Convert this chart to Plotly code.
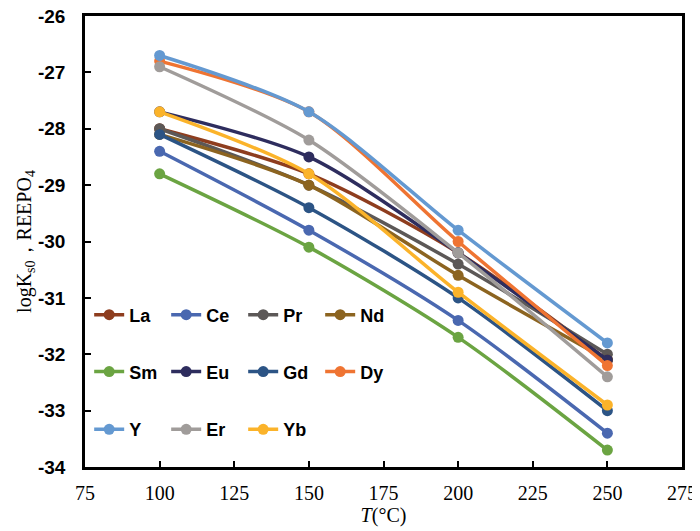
import plotly.graph_objects as go

# temperatures (°C)
temps = [100, 150, 200, 250]

# logKs0 of REEPO4 for each element
La = [-28.0, -28.8, -30.2, -32.1]
Ce = [-28.4, -29.8, -31.4, -33.4]
Pr = [-28.0, -29.0, -30.4, -32.0]
Nd = [-28.1, -29.0, -30.6, -32.1]
Sm = [-28.8, -30.1, -31.7, -33.7]
Eu = [-27.7, -28.5, -30.2, -32.1]
Gd = [-28.1, -29.4, -31.0, -33.0]
Dy = [-26.8, -27.7, -30.0, -32.2]
Y = [-26.7, -27.7, -29.8, -31.8]
Er = [-26.9, -28.2, -30.2, -32.4]
Yb = [-27.7, -28.8, -30.9, -32.9]

# axis ticks
y_ticks = [-34, -33, -32, -31, -30, -29, -28, -27, -26]
y_labels = ["-34", "-33", "-32", "-31", "-30", "-29", "-28", "-27", "-26"]

series = [
    ("La", La, "#8E3D1E", "legend"),
    ("Ce", Ce, "#4A68B0", "legend"),
    ("Pr", Pr, "#5C5857", "legend"),
    ("Nd", Nd, "#8C6420", "legend"),
    ("Sm", Sm, "#6BA442", "legend2"),
    ("Eu", Eu, "#2E2D5E", "legend2"),
    ("Gd", Gd, "#2C5485", "legend2"),
    ("Dy", Dy, "#EF7432", "legend2"),
    ("Y", Y, "#6499D1", "legend3"),
    ("Er", Er, "#A09C9A", "legend3"),
    ("Yb", Yb, "#FBB32A", "legend3"),
]

fig = go.Figure()
for name, vals, color, leg in series:
    fig.add_trace(go.Scatter(
        x=temps, y=vals, name=name, mode="lines+markers",
        line=dict(color=color, width=3.5, shape="spline", smoothing=0.8),
        marker=dict(color=color, size=11),
        legend=leg,
    ))

leg_font = dict(family="Liberation Sans, Arial", size=18, color="black", weight="bold")
leg_common = dict(orientation="h", font=leg_font, bgcolor="rgba(0,0,0,0)",
                  entrywidth=32, entrywidthmode="pixels",
                  xanchor="left", yanchor="middle", x=0.007, itemwidth=30)

# the page body adds an 8px offset, so the figure is a bit smaller than the window
fig.update_layout(
    width=692, height=523,
    template="plotly_white",
    plot_bgcolor="white", paper_bgcolor="white",
    margin=dict(l=77, r=18, t=8, b=64),
    showlegend=True,
    legend=dict(leg_common, y=0.337),
    legend2=dict(leg_common, y=0.211),
    legend3=dict(leg_common, y=0.083),
    xaxis=dict(
        range=[75, 275], dtick=25, tick0=75, automargin=False,
        showgrid=False, zeroline=False,
        showline=True, linecolor="black", linewidth=2.5, mirror=True,
        ticks="inside", ticklen=6, tickwidth=2, tickcolor="black",
        ticklabelstandoff=6, ticklabeloverflow="allow",
        tickfont=dict(family="Liberation Serif, Times New Roman", size=20, color="black"),
        title=dict(text="<i>T</i>(°C)", standoff=0,
                   font=dict(family="Liberation Serif, Times New Roman", size=20, color="black")),
    ),
    yaxis=dict(
        range=[-34, -26], tickvals=y_ticks, ticktext=y_labels, automargin=False,
        showgrid=False, zeroline=False,
        showline=True, linecolor="black", linewidth=2.5, mirror=True,
        ticks="inside", ticklen=6, tickwidth=2, tickcolor="black",
        ticklabelstandoff=13, ticklabeloverflow="allow",
        tickfont=dict(family="Liberation Sans, Arial", size=19, color="black", weight="bold"),
        title=dict(text="logK<sub>s0</sub>，REEPO<sub>4</sub>", standoff=0,
                   font=dict(family="Liberation Serif, Times New Roman", size=20, color="black")),
    ),
)

fig.write_html("out.html")
